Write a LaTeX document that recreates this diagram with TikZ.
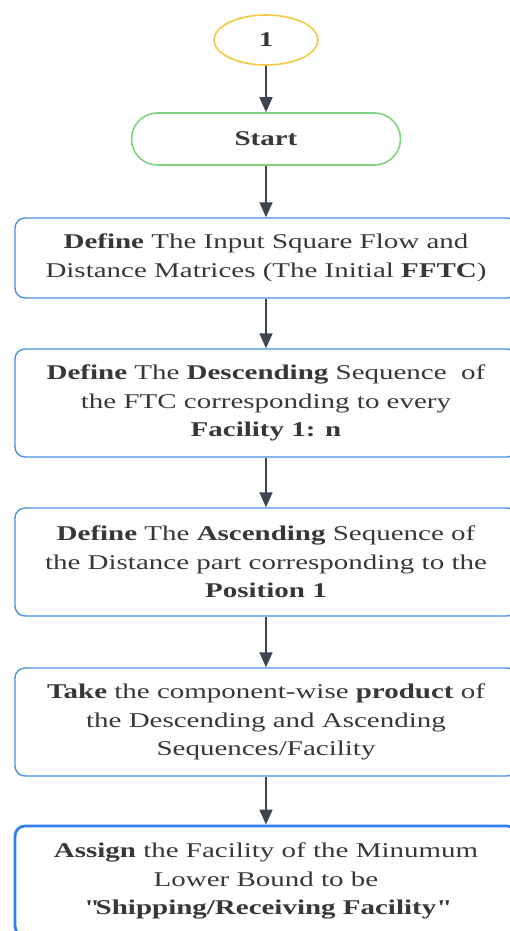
\documentclass[tikz,border=0pt]{standalone}
\usepackage{fontspec}
\setmainfont[FakeStretch=1.38]{Liberation Serif}
\usepackage{xcolor}
\definecolor{myyellow}{RGB}{245,200,66}
\definecolor{mygreen}{RGB}{126,212,126}
\definecolor{myblue}{RGB}{74,144,226}
\definecolor{mydeep}{RGB}{47,128,237}
\definecolor{myarrow}{RGB}{61,69,80}
\definecolor{mytext}{RGB}{55,55,55}
\usetikzlibrary{arrows.meta,shapes.geometric}

\begin{document}
\begin{tikzpicture}[x=1pt,y=-1pt,line join=round]
	\tikzstyle{txt}=[font=\fontsize{21}{28.5}\selectfont,text=mytext,align=center,inner sep=0pt];
	\tikzstyle{proc}=[txt,draw=myblue,line width=1.4pt,rounded corners=10pt,minimum width=502pt,execute at begin node={\rule{0pt}{23pt}}];
	\tikzstyle{flow}=[myarrow,line width=1.6pt,-{Triangle[length=15pt,width=13pt]}];
	\useasboundingbox (0,0) rectangle (509,931);
	%% Terminals
	\node[txt,ellipse,draw=myyellow,line width=1.6pt,minimum width=104pt,minimum height=50pt] (one) at (266,40) {\textbf{1}};
	\node[txt,draw=mygreen,line width=1.6pt,rounded corners=26pt,minimum width=269pt,minimum height=52pt] (start) at (266,139) {\textbf{Start}};
	%% Steps
	\node[proc,minimum height=80pt] (input) at (266,258) {\textbf{Define} The Input Square Flow and\\Distance Matrices (The Initial \textbf{FFTC})};
	\node[proc,minimum height=108pt] (desc) at (266,403) {\textbf{Define} The \textbf{Descending} Sequence\ \ of\\the FTC corresponding to every\\\textbf{Facility 1: n}};
	\node[proc,minimum height=108pt] (asc) at (266,562) {\textbf{Define} The \textbf{Ascending} Sequence of\\the Distance part corresponding to the\\\textbf{Position 1}};
	\node[proc,minimum height=108pt] (prod) at (266,722) {\textbf{Take} the component-wise \textbf{product} of\\the Descending and Ascending\\Sequences/Facility};
	\node[proc,draw=mydeep,line width=2.8pt,minimum height=110pt] (assign) at (266,881) {\textbf{Assign} the Facility of the Minumum\\Lower Bound to be\\\textbf{\textquotedbl Shipping/Receiving Facility\textquotedbl}};
	%% Arrows
	\draw[flow] (one) -- (start);
	\draw[flow] (start) -- (input);
	\draw[flow] (input) -- (desc);
	\draw[flow] (desc) -- (asc);
	\draw[flow] (asc) -- (prod);
	\draw[flow] (prod) -- (assign);
\end{tikzpicture}
\end{document}
